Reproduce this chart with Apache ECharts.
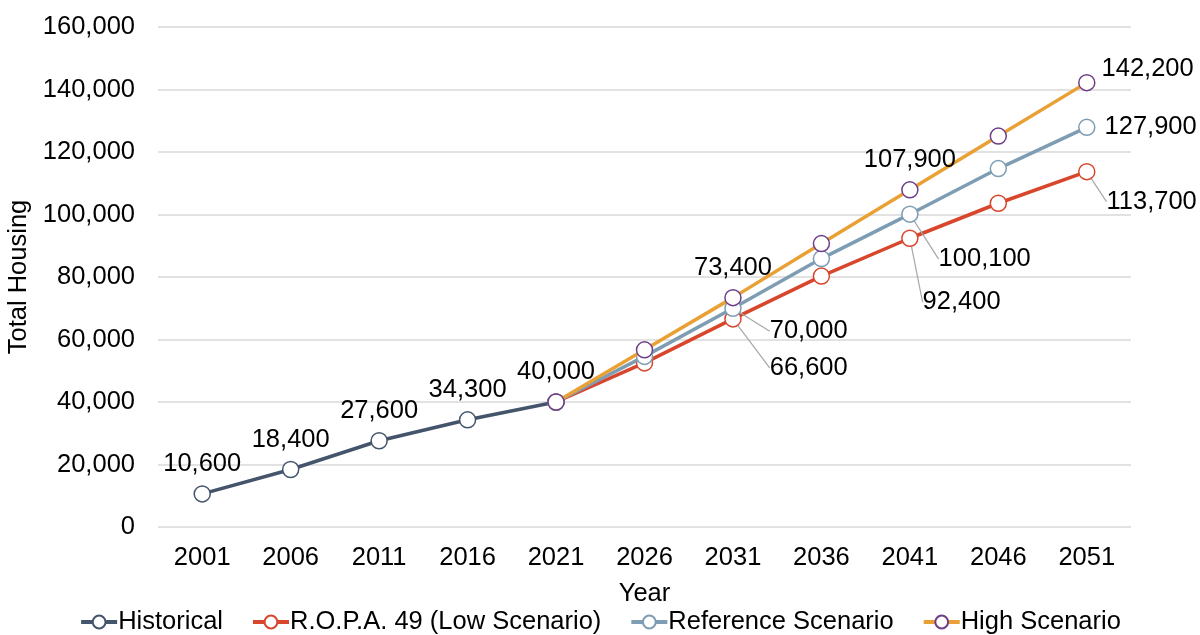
<!DOCTYPE html>
<html>
<head>
<meta charset="utf-8">
<script src="https://cdn.jsdelivr.net/npm/echarts@6/dist/echarts.min.js"></script>
<style>
html,body{margin:0;padding:0;background:#fff;}
#chart{width:1200px;height:635px;}
</style>
</head>
<body>
<div id="chart"></div>
<script>
var years = ['2001','2006','2011','2016','2021','2026','2031','2036','2041','2046','2051'];
var historical = [10600, 18400, 27600, 34300, 40000, null, null, null, null, null, null];
var lowScenario = [null, null, null, null, 40000, 52500, 66600, 80300, 92400, 103600, 113700];
var referenceScenario = [null, null, null, null, 40000, 54600, 70000, 85900, 100100, 114700, 127900];
var highScenario = [null, null, null, null, 40000, 56700, 73400, 90700, 107900, 125100, 142200];
var yTicks = [0, 20000, 40000, 60000, 80000, 100000, 120000, 140000, 160000];

// which points carry a data label (by category index)
var histLabelIdx = [0, 1, 2, 3, 4];
var lowLabelIdx = [6, 8, 10];
var refLabelIdx = [6, 8, 10];
var highLabelIdx = [6, 8, 10];

// label placement (layout only)
var lowLabelShift = {6: [20, 49], 8: [-4, 64], 10: [3, 30]};
var refLabelShift = {6: [20, 23], 8: [12, 45]};

function fmt(v){ return String(v).replace(/\B(?=(\d{3})+(?!\d))/g, ','); }

var FONT = 'Liberation Sans, Arial, sans-serif';
var FS = 25.5;

function buildData(values, labelIdx, pos, extra, shift){
  return values.map(function(v, i){
    var show = labelIdx.indexOf(i) >= 0 && v != null;
    var lab = {show: show, position: pos};
    if (extra && extra[i]) { for (var k in extra[i]) lab[k] = extra[i][k]; }
    var item = {value: v, label: lab};
    item.labelLine = {show: !!(shift && shift[i])};
    return item;
  });
}

function shiftFn(map){
  return function(p){
    var s = map[p.dataIndex];
    if (!s) return {};
    return {dx: s[0], dy: s[1]};
  };
}

var labelStyle = {color:'#000', fontSize: FS, fontFamily: FONT, formatter: function(p){ return fmt(p.value); }, distance: 8};

function series(name, data, lineColor, markerColor, labelIdx, pos, shift, extra, z){
  var s = {
    name: name, type: 'line', data: buildData(data, labelIdx, pos, extra, shift),
    symbol: 'circle', symbolSize: 16, showAllSymbol: true,
    lineStyle: {color: lineColor, width: 3.5},
    itemStyle: {color: '#fff', borderColor: markerColor, borderWidth: 1.5},
    label: labelStyle,
    labelLine: {show: !!shift, lineStyle: {color:'#a6a6a6', width: 1.2}},
    emphasis: {disabled: true},
    z: z,
    animation: false
  };
  if (shift) s.labelLayout = shiftFn(shift);
  return s;
}

var chart = echarts.init(document.getElementById('chart'));
chart.setOption({
  animation: false,
  backgroundColor: '#fff',
  textStyle: {fontFamily: FONT},
  grid: {left: 158, right: 69, top: 27, bottom: 108, containLabel: false, outerBoundsMode: 'none'},
  legend: {
    top: 604, left: 'center',
    itemWidth: 36, itemHeight: 16, itemGap: 28,
    lineStyle: {width: 4},
    textStyle: {color:'#000', fontSize: FS, fontFamily: FONT, padding: [0,0,0,-4]},
    data: ['Historical','R.O.P.A. 49 (Low Scenario)','Reference Scenario','High Scenario']
  },
  xAxis: {
    type: 'category', data: years, boundaryGap: true,
    name: 'Year', nameLocation: 'middle', nameGap: 54,
    nameTextStyle: {color:'#000', fontSize: FS, fontFamily: FONT},
    axisLine: {show: false}, axisTick: {show: false},
    axisLabel: {color:'#000', fontSize: FS, fontFamily: FONT, margin: 18}
  },
  yAxis: {
    type: 'value', min: 0, max: 160000, interval: 20000,
    name: 'Total Housing', nameLocation: 'middle', nameGap: 122, nameRotate: 90,
    nameTextStyle: {color:'#000', fontSize: FS, fontFamily: FONT},
    axisLine: {show: false}, axisTick: {show: false},
    splitLine: {lineStyle: {color:'#d9d9d9', width: 1.5}},
    axisLabel: {color:'#000', fontSize: FS, fontFamily: FONT, margin: 23,
      formatter: function(v){ return yTicks.indexOf(v) >= 0 ? fmt(v) : ''; }}
  },
  series: [
    series('Historical', historical, '#44546A', '#44546A', histLabelIdx, 'top', null, null, 2),
    series('R.O.P.A. 49 (Low Scenario)', lowScenario, '#D8462C', '#D8462C', lowLabelIdx, 'right', lowLabelShift, null, 3),
    series('Reference Scenario', referenceScenario, '#7E9DB3', '#7E9DB3', refLabelIdx, 'right', refLabelShift, {10: {distance: 9}}, 4),
    series('High Scenario', highScenario, '#E9A136', '#6D3F88', highLabelIdx, 'top', null, {10: {position: 'right', offset: [0, -14], distance: 6}}, 5)
  ]
});
</script>
</body>
</html>
